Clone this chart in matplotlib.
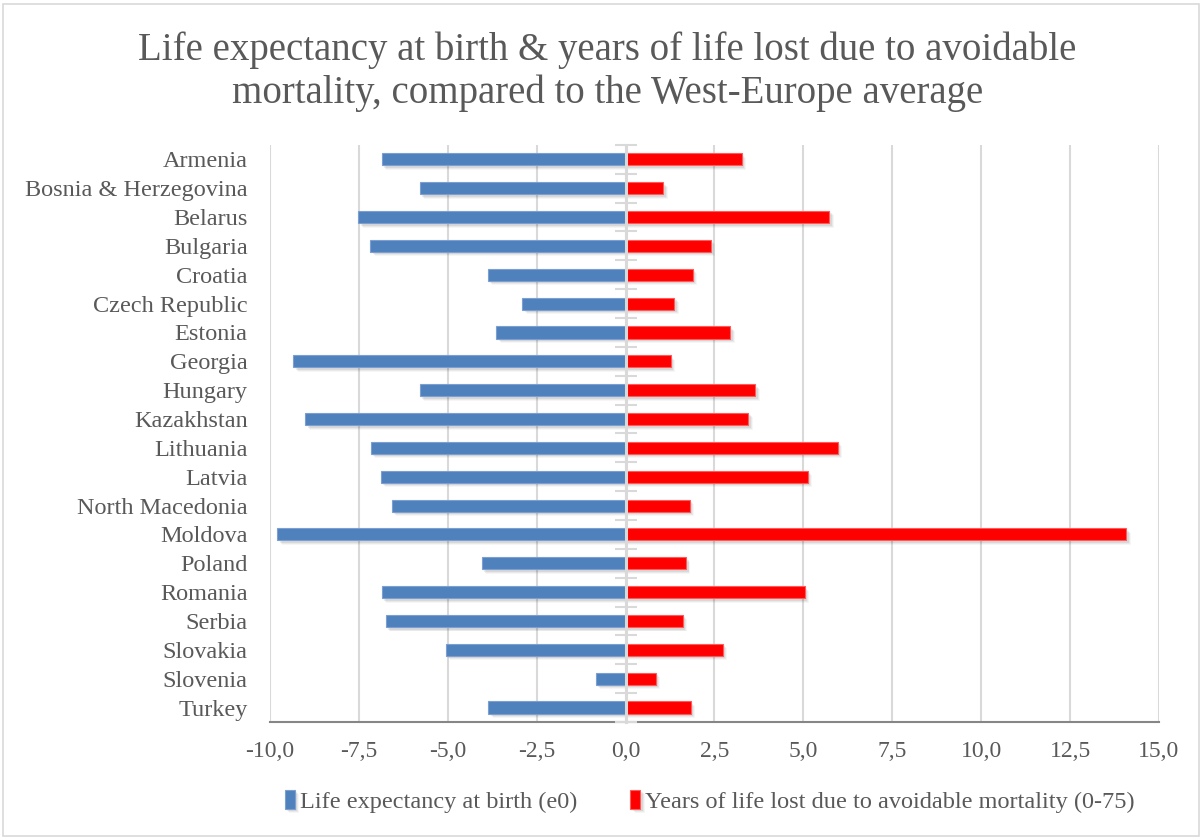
import matplotlib
matplotlib.use("Agg")
import matplotlib.pyplot as plt
import matplotlib.patheffects as pe
from matplotlib.patches import Rectangle
from matplotlib.ticker import FixedLocator, FuncFormatter
import numpy as np

countries = [
    "Armenia", "Bosnia & Herzegovina", "Belarus", "Bulgaria", "Croatia",
    "Czech Republic", "Estonia", "Georgia", "Hungary", "Kazakhstan",
    "Lithuania", "Latvia", "North Macedonia", "Moldova", "Poland",
    "Romania", "Serbia", "Slovakia", "Slovenia", "Turkey",
]
life_expectancy_gap = [
    -6.85, -5.79, -7.51, -7.18, -3.87,
    -2.90, -3.63, -9.34, -5.79, -9.01,
    -7.17, -6.88, -6.58, -9.79, -4.05,
    -6.85, -6.74, -5.05, -0.84, -3.86,
]
years_lost_gap = [
    3.27, 1.06, 5.73, 2.39, 1.89,
    1.37, 2.94, 1.27, 3.65, 3.45,
    5.96, 5.13, 1.81, 14.08, 1.70,
    5.04, 1.61, 2.74, 0.85, 1.84,
]
series_names = [
    "Life expectancy at birth (e0)",
    "Years of life lost due to avoidable mortality (0-75)",
]
x_ticks = [-10, -7.5, -5, -2.5, 0, 2.5, 5, 7.5, 10, 12.5, 15]

TEXT = "#595959"
GRID = "#D9D9D9"
BLUE = "#4F81BD"
RED = "#FF0000"
FONT = "Liberation Serif"

plt.rcParams["font.family"] = FONT

fig = plt.figure(figsize=(12.03, 8.4), dpi=100)
ax = fig.add_axes([0.2244, 0.1405, 0.739, 0.687])

y = np.arange(len(countries))

shadow = [
    pe.SimplePatchShadow(offset=(3.2, -3.2), shadow_rgbFace="black", alpha=0.035),
    pe.SimplePatchShadow(offset=(2.5, -2.5), shadow_rgbFace="black", alpha=0.05),
    pe.SimplePatchShadow(offset=(1.8, -1.8), shadow_rgbFace="black", alpha=0.07),
    pe.Normal(),
]

ax.barh(y, life_expectancy_gap, height=0.42, color=BLUE, edgecolor="#7A9FD0",
        linewidth=0.8, label=series_names[0], path_effects=shadow, zorder=3)
ax.barh(y, years_lost_gap, height=0.42, color=RED, edgecolor="#FF5A5A",
        linewidth=0.8, label=series_names[1], path_effects=shadow, zorder=3)

ax.set_xlim(-10, 15)
ax.set_ylim(len(countries) - 0.5, -0.5)

ax.xaxis.set_major_locator(FixedLocator(x_ticks))
ax.xaxis.set_major_formatter(
    FuncFormatter(lambda v, p: f"{v:.1f}".replace(".", ",").replace("\u2212", "-")))
ax.grid(axis="x", color=GRID, linewidth=1.5, zorder=0)
ax.set_axisbelow(True)

ax.set_yticks(y)
ax.set_yticklabels(countries)
ax.tick_params(axis="y", length=0, pad=16, labelsize=17.5, labelcolor=TEXT)
ax.tick_params(axis="x", length=0, pad=14, labelsize=17, labelcolor=TEXT)

for side in ("left", "right", "top"):
    ax.spines[side].set_visible(False)
ax.spines["bottom"].set_color("#868686")
ax.spines["bottom"].set_linewidth(1.5)

# category axis crossing at zero, with ticks between categories
zero_frac = (0 - (-10)) / 25
cat_axis = ax.secondary_yaxis(zero_frac)
cat_axis.set_zorder(5)
cat_axis.spines["left"].set_color(GRID)
cat_axis.spines["left"].set_linewidth(2.2)
cat_axis.set_yticks(np.arange(len(countries) + 1) - 0.5)
cat_axis.set_yticklabels([])
cat_axis.tick_params(axis="y", direction="inout", length=16, width=1.5, color=GRID)

fig.text(0.505, 0.915,
         "Life expectancy at birth & years of life lost due to avoidable\n"
         "mortality, compared to the West-Europe average",
         ha="center", va="center", fontsize=28, color=TEXT, linespacing=1.2)

leg = fig.legend(loc="center", bbox_to_anchor=(0.59, 0.046), ncol=2, frameon=False,
                 fontsize=17.5, handlelength=0.4, handleheight=0.8, handletextpad=0.2,
                 columnspacing=2.2, labelcolor=TEXT)

fig.add_artist(Rectangle((3 / 1203, 4 / 840), 1 - 7 / 1203, 1 - 8 / 840,
                         transform=fig.transFigure, fill=False,
                         edgecolor=GRID, linewidth=1.2))

fig.savefig("out.png", dpi=100)
